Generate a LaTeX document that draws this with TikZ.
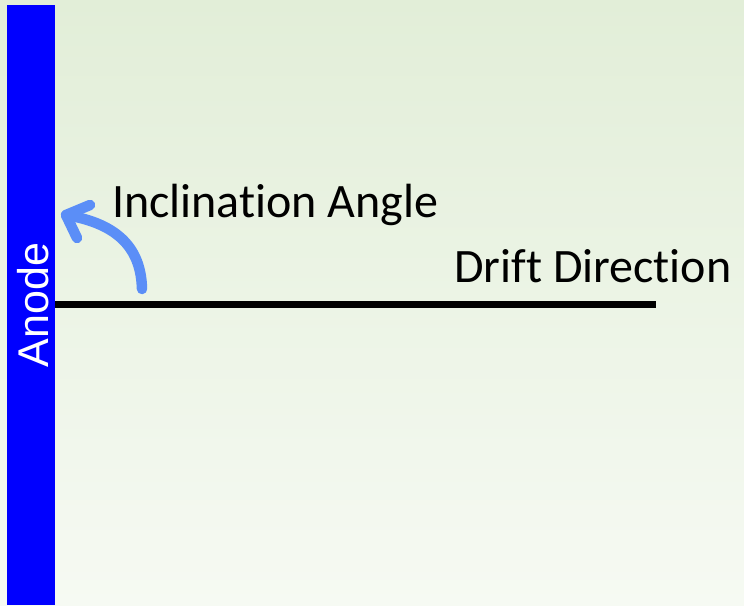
\documentclass[tikz,border=0pt]{standalone}
\usepackage{fontspec}
\setmainfont{Carlito}[Ligatures={NoCommon},RawFeature={-liga}]
\newfontfamily\arialfont{Liberation Sans}
\definecolor{bgtop}{HTML}{E2EED8}
\definecolor{bgbot}{HTML}{F6FAF3}
\definecolor{anodeblue}{HTML}{0000FF}
\definecolor{arrowblue}{HTML}{5B8EF7}
\tikzset{
  lbl/.style={font=\fontsize{48}{50}\selectfont, text=black, inner sep=0pt, anchor=base west},
  curvearrow/.style={draw=arrowblue, line width=10.5pt, line cap=round, line join=round},
  driftline/.style={draw=black, line width=7pt}
}
\begin{document}
\begin{tikzpicture}[x=1pt,y=-1pt]
\useasboundingbox (0,0) rectangle (744,605);
\shade[top color=bgtop,bottom color=bgbot] (0,0) rectangle (744,605);
\fill[anodeblue] (7,5) rectangle (55,605);
\node[text=white, rotate=90, inner sep=0pt, font=\arialfont\fontsize{43}{48}\selectfont] (anode) at (33,305) {Anode};
\coordinate (lineL) at (55,304.5);
\coordinate (lineR) at (656,304.5);
\draw[driftline] (lineL) -- (lineR);
\coordinate (arrS) at (142,289);
\coordinate (arrT) at (66,215);
\coordinate (armA) at (90,205);
\coordinate (armB) at (77,238);
\draw[curvearrow] (arrS) .. controls (141,250) and (120,224) .. (arrT);
\draw[curvearrow] (armA) -- (arrT) -- (armB);
\node[lbl] (incl) at (112,217) {Inclination Angle};
\node[lbl] (drift) at (454,282) {Drift Direction};
\end{tikzpicture}
\end{document}
